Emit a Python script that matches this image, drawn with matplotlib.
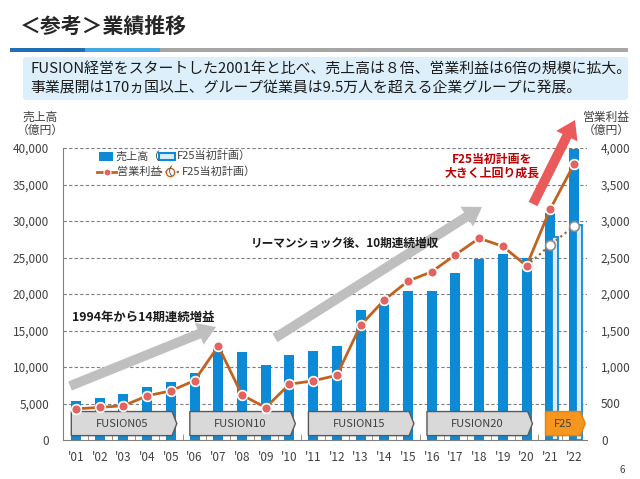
import matplotlib
matplotlib.use("Agg")
import matplotlib.pyplot as plt
import numpy as np
from matplotlib.patches import Rectangle, Polygon, FancyArrowPatch, FancyBboxPatch
from matplotlib.lines import Line2D
from matplotlib.ticker import FuncFormatter, MultipleLocator

plt.rcParams["font.family"] = ["Noto Sans CJK JP", "DejaVu Sans"]

# --- data -------------------------------------------------------------
years = ["'01", "'02", "'03", "'04", "'05", "'06", "'07", "'08", "'09", "'10", "'11",
         "'12", "'13", "'14", "'15", "'16", "'17", "'18", "'19", "'20", "'21", "'22"]
sales = [5320, 5720, 6250, 7300, 7930, 9110, 12900, 12020, 10240, 11600, 12190,
         12910, 17870, 19150, 20440, 20440, 22910, 24810, 25500, 24930, 31090, 39820]
op_income = [426, 447, 470, 605, 673, 815, 1287, 615, 445, 765, 810,
             886, 1571, 1918, 2177, 2305, 2537, 2764, 2653, 2386, 3164, 3775]
plan_years = ["'21", "'22"]
plan_sales = [27800, 29400]
plan_op_years = ["'20", "'21", "'22"]
plan_op = [2386, 2670, 2930]

phase_labels = ["FUSION05", "FUSION10", "FUSION15", "FUSION20", "F25"]
phase_first = ["'01", "'06", "'11", "'16", "'21"]
phase_last = ["'05", "'10", "'15", "'20", "'22"]

BLUE = "#0C8AD6"
LIGHT = "#D8EFFB"
ORANGE_LINE = "#C2621F"
MARKER_RED = "#E2635F"
TXT = "#404040"

W, H = 640, 479


def px(x, y):
    """pixel (from top-left) -> figure fraction"""
    return x / W, 1 - y / H


fig = plt.figure(figsize=(6.4, 4.79), dpi=100)
fig.patch.set_facecolor("white")

# --- header -------------------------------------------------------------
fig.text(*px(20, 26), "＜参考＞業績推移", fontsize=15, fontweight="bold",
         color="#262626", va="center", ha="left")
for x0, x1, c in [(10, 85, "#1F6FB5"), (85, 160, "#42A8E0"), (160, 628, "#A6A6A6")]:
    fig.patches.append(Rectangle(px(x0, 52), (x1 - x0) / W, 4 / H,
                                 transform=fig.transFigure, color=c, lw=0))
fig.patches.append(FancyBboxPatch(px(23, 100), 605 / W, 43 / H,
                                  boxstyle="round,pad=0,rounding_size=0.006",
                                  transform=fig.transFigure, fc="#DCEFFA", ec="none"))
fig.text(*px(30, 70), "FUSION経営をスタートした2001年と比べ、売上高は８倍、営業利益は6倍の規模に拡大。",
         fontsize=10.7, color="#1a1a1a", va="center", ha="left")
fig.text(*px(30, 88), "事業展開は170ヵ国以上、グループ従業員は9.5万人を超える企業グループに発展。",
         fontsize=10.7, color="#1a1a1a", va="center", ha="left")

# --- axes -------------------------------------------------------------
left, right, top, bottom = 63, 587, 148, 440
ax = fig.add_axes([left / W, 1 - bottom / H, (right - left) / W, (bottom - top) / H])
x = np.arange(len(years))
ax.set_xlim(-0.55, 21.55)
ax.set_ylim(0, 40000)

ax.bar(x, sales, width=0.42, color=BLUE, zorder=2)
px_idx = [years.index(y) for y in plan_years]
ax.bar(np.array(px_idx) + 0.2, plan_sales, width=0.26, color=LIGHT,
       edgecolor=BLUE, linewidth=1.3, zorder=3)

ax.yaxis.set_major_locator(MultipleLocator(5000))
ax.yaxis.set_major_formatter(FuncFormatter(lambda v, p: f"{int(v):,}"))
for v in range(5000, 40001, 5000):
    ax.axhline(v, color="#7f7f7f", lw=0.8, ls=(0, (3, 2)), zorder=1)
ax.set_xticks(x)
ax.set_xticklabels(years)
ax.set_xticks(x[:-1] + 0.5, minor=True)
ax.tick_params(axis="x", which="major", length=0, pad=8, labelsize=8.5, labelcolor=TXT)
ax.tick_params(axis="x", which="minor", length=4, direction="in", color="#808080")
ax.tick_params(axis="y", length=0, pad=10, labelsize=8.5, labelcolor=TXT)
for s in ["top", "right"]:
    ax.spines[s].set_visible(False)
ax.spines["left"].set_color("#808080")
ax.spines["bottom"].set_color("#808080")

# phase arrows
y0, y1 = 600, 3900
for lab, f, l in zip(phase_labels, phase_first, phase_last):
    xs = years.index(f) - 0.2
    xe = years.index(l) + 0.25
    if lab == phase_labels[-1]:
        xe = ax.get_xlim()[1] - 0.08
        fc, ec = "#F7961F", "#E88000"
    else:
        fc, ec = "#D9D9D9", "#595959"
    body = xe - 0.2
    ax.add_patch(Polygon([(xs, y0), (body, y0), (xe, (y0 + y1) / 2), (body, y1), (xs, y1)],
                         closed=True, fc=fc, ec=ec, lw=1.0, zorder=4))
    ax.text((xs + body) / 2, (y0 + y1) / 2, lab, ha="center", va="center",
            fontsize=8, color=TXT, zorder=5)

# operating income on right axis
ax2 = ax.twinx()
ax2.set_ylim(0, 4000)
ax2.yaxis.set_major_locator(MultipleLocator(500))
ax2.yaxis.set_major_formatter(FuncFormatter(lambda v, p: f"{int(v):,}"))
ax2.tick_params(axis="y", length=0, pad=10, labelsize=8.5, labelcolor=TXT)
for s in ax2.spines.values():
    s.set_visible(False)
pidx = [years.index(y) for y in plan_op_years]
ax2.plot(pidx, plan_op, ls=(0, (1, 1.5)), color="#9A6A3A", lw=1.6, marker="o",
         ms=7, mfc="white", mec="#8C8C8C", mew=1.2, zorder=3)
ax2.plot(x, op_income, color=ORANGE_LINE, lw=2, marker="o", ms=7,
         mfc=MARKER_RED, mec="white", mew=1.2, zorder=4)

# axis titles
fig.text(*px(40, 124), "売上高\n（億円）", fontsize=8.5, color=TXT,
         ha="center", va="center", linespacing=0.95)
fig.text(*px(606, 124), "営業利益\n（億円）", fontsize=8.5, color=TXT,
         ha="center", va="center", linespacing=0.95)

# legend (manual)
fig.patches.append(Rectangle(px(99, 161), 14 / W, 9 / H, transform=fig.transFigure,
                             fc=BLUE, ec="none"))
fig.text(*px(115, 156), "売上高（", fontsize=8, color=TXT, va="center")
fig.patches.append(Rectangle(px(159, 160), 16 / W, 7 / H, transform=fig.transFigure,
                             fc=LIGHT, ec=BLUE, lw=1.5))
fig.text(*px(177, 156), "F25当初計画）", fontsize=8, color=TXT, va="center")
lx = np.array([97, 116]) / W
ly = np.array([1 - 172 / H] * 2)
fig.lines.append(Line2D(lx, ly, transform=fig.transFigure, color=ORANGE_LINE, lw=2))
fig.lines.append(Line2D([106.5 / W], [1 - 172 / H], transform=fig.transFigure, marker="o",
                        ms=5, mfc=MARKER_RED, mec="white", mew=0.8))
fig.text(*px(117, 172), "営業利益（", fontsize=8, color=TXT, va="center")
fig.lines.append(Line2D(np.array([160, 180]) / W, ly, transform=fig.transFigure,
                        color="#9A6A3A", lw=1.6, ls=(0, (1, 1.5))))
fig.lines.append(Line2D([170 / W], [1 - 172 / H], transform=fig.transFigure, marker="o",
                        ms=6, mfc="white", mec="#C2621F", mew=1.0))
fig.text(*px(182, 172), "F25当初計画）", fontsize=8, color=TXT, va="center")

# big arrows
def big_arrow(p0, p1, color, scale=10):
    a = FancyArrowPatch(px(*p0), px(*p1), transform=fig.transFigure,
                        arrowstyle="simple,head_length=1.3,head_width=1.7,tail_width=0.7",
                        mutation_scale=scale, fc=color, ec="none", zorder=2,
                        shrinkA=0, shrinkB=0)
    fig.patches.append(a)

big_arrow((70, 386), (216, 327), "#BFBFBF")
big_arrow((275, 338), (482, 207), "#BFBFBF")
big_arrow((533, 204), (575, 120), "#EB5A5A")

fig.text(*px(72, 317), "1994年から14期連続増益", fontsize=8.9, fontweight="bold",
         color="#1a1a1a", va="center", ha="left", zorder=5)
fig.text(*px(251, 243), "リーマンショック後、10期連続増収", fontsize=8.4, fontweight="bold",
         color="#1a1a1a", va="center", ha="left", zorder=5)
fig.text(*px(492, 166), "F25当初計画を\n大きく上回り成長", fontsize=8.6, fontweight="bold",
         color="#C00000", va="center", ha="center", linespacing=1.1, zorder=5)

fig.text(*px(622, 470), "6", fontsize=7, color=TXT, ha="center", va="center")

fig.savefig("out.png", dpi=100)
